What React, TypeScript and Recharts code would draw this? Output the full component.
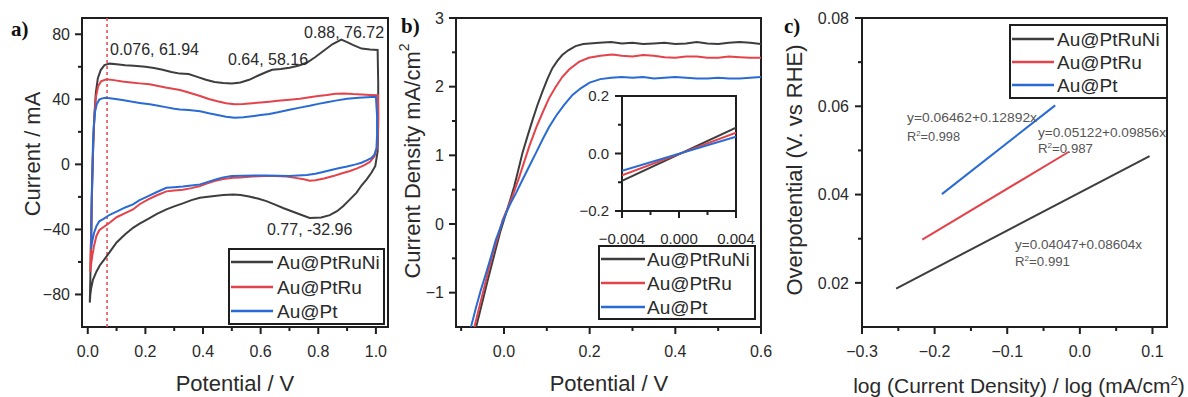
import React from 'react';
import { LineChart, Line, XAxis, YAxis, ReferenceLine, ReferenceArea } from 'recharts';

const W = 1188;
const H = 397;
const FONT = "'Liberation Sans', Arial, Helvetica, sans-serif";
const SERIF = "'Liberation Serif', 'Times New Roman', serif";
const INK = '#1e1e1e';
const TXT = '#2a2a2a';

const SERIES_NAMES = ['Au@PtRuNi', 'Au@PtRu', 'Au@Pt'];
const COLORS = ['#3d3d3d', '#e3434b', '#2a6ad3'];

// ---------- Panel a: cyclic voltammetry (potential V, current mA) ----------
const cvPtRuNi: [number, number][] = [
  [0.007, -85], [0.009, -70], [0.011, -50], [0.013, -30], [0.016, -8], [0.019, 12], [0.023, 30], [0.028, 44], [0.035, 53], [0.045, 58], [0.058, 61], [0.076, 61.94],
  [0.10, 61.6], [0.13, 61], [0.16, 60.6], [0.20, 60], [0.23, 59.2], [0.26, 58.2], [0.29, 56.8], [0.32, 55.8], [0.35, 55.5], [0.38, 53.8], [0.41, 52], [0.44, 50.6], [0.47, 50], [0.50, 49.8], [0.53, 50.4], [0.56, 52], [0.59, 54.5], [0.62, 56.8], [0.64, 58.16], [0.67, 58.6], [0.70, 59.4], [0.73, 60.6], [0.76, 62.5], [0.79, 66], [0.82, 70], [0.85, 74], [0.88, 76.72], [0.90, 75.2], [0.92, 73.5], [0.95, 71.2], [0.98, 70.6], [1.006, 70.4],
  [1.008, 50], [1.008, 25], [1.006, 8], [0.998, -1], [0.985, -5], [0.968, -9.2], [0.95, -13], [0.933, -17.4], [0.91, -21.5], [0.887, -25.6], [0.865, -28.8], [0.84, -31.2], [0.81, -32.6], [0.77, -32.96], [0.74, -31], [0.71, -29], [0.68, -27], [0.65, -24.8], [0.62, -22.6], [0.59, -21], [0.56, -19.8], [0.53, -18.8], [0.505, -18.5], [0.47, -18.8], [0.44, -19.4], [0.41, -20], [0.389, -20.5], [0.36, -22], [0.33, -24], [0.30, -25.8], [0.273, -27.7], [0.24, -30.5], [0.21, -33.5], [0.18, -36.5], [0.157, -39], [0.13, -43], [0.10, -48], [0.076, -54], [0.055, -59], [0.042, -62], [0.03, -66], [0.018, -71], [0.012, -76], [0.009, -80], [0.007, -85],
];
const cvPtRu: [number, number][] = [
  [0.009, -66], [0.010, -55], [0.012, -38], [0.014, -20], [0.017, 0], [0.020, 18], [0.024, 32], [0.029, 42], [0.036, 48], [0.046, 51], [0.065, 52.3],
  [0.09, 51.8], [0.12, 51], [0.15, 50.4], [0.18, 49.8], [0.215, 49.2], [0.24, 48.4], [0.27, 47.3], [0.30, 46.4], [0.32, 45.7], [0.35, 44.2], [0.39, 42], [0.42, 40.2], [0.45, 38.8], [0.48, 37.6], [0.51, 37], [0.54, 37.1], [0.57, 37.6], [0.60, 38], [0.63, 38.5], [0.66, 39.1], [0.70, 39.8], [0.736, 40.4], [0.77, 41.2], [0.80, 42], [0.83, 42.6], [0.86, 43.4], [0.89, 43.6], [0.92, 43.2], [0.95, 43], [0.98, 42.7], [1.007, 42.5],
  [1.008, 30], [1.007, 18], [1.004, 10], [0.995, 5], [0.979, 1.5], [0.96, -0.5], [0.935, -2.5], [0.91, -4.1], [0.88, -5.6], [0.852, -7.2], [0.82, -8.7], [0.79, -9.8], [0.77, -10], [0.75, -9.2], [0.72, -8.3], [0.69, -7.5], [0.65, -7.2], [0.62, -7.2], [0.59, -7.3], [0.56, -7.6], [0.53, -8], [0.505, -8.2], [0.47, -9], [0.44, -10.3], [0.41, -12], [0.39, -13.3], [0.36, -14.6], [0.33, -15.6], [0.30, -16], [0.273, -16.6], [0.24, -19], [0.21, -21.5], [0.18, -24.5], [0.157, -27.7], [0.13, -30], [0.10, -32.5], [0.076, -35.9], [0.055, -38.5], [0.04, -40.5], [0.03, -44], [0.022, -50], [0.016, -56], [0.012, -61], [0.009, -66],
];
const cvPt: [number, number][] = [
  [0.012, -52], [0.013, -35], [0.014, -18], [0.016, -2], [0.018, 12], [0.021, 24], [0.025, 32], [0.031, 37], [0.04, 39.8], [0.05, 40.6], [0.0625, 41],
  [0.09, 40.4], [0.12, 39.6], [0.15, 38.6], [0.18, 37.8], [0.215, 36.9], [0.24, 36.2], [0.27, 35.2], [0.30, 34.2], [0.32, 33.8], [0.35, 33.4], [0.39, 32.6], [0.42, 31.4], [0.45, 30.4], [0.48, 29.3], [0.51, 28.7], [0.54, 29], [0.57, 29.6], [0.60, 30.3], [0.63, 31], [0.66, 32], [0.70, 33.6], [0.736, 34.9], [0.77, 36], [0.80, 37.2], [0.83, 38.2], [0.86, 39.2], [0.90, 40.3], [0.94, 40.9], [0.97, 41.2], [1.0, 41.6],
  [1.004, 30], [1.004, 18], [1.002, 10], [0.995, 6], [0.985, 4], [0.968, 2.4], [0.95, 1], [0.93, 0], [0.9, -1.3], [0.87, -2.4], [0.852, -3.1], [0.82, -4.5], [0.79, -5.8], [0.76, -6.5], [0.73, -6.9], [0.70, -7.2], [0.66, -7], [0.62, -6.8], [0.58, -6.8], [0.54, -7], [0.50, -7.2], [0.47, -8], [0.45, -9], [0.42, -10.6], [0.39, -12.3], [0.36, -13], [0.33, -13.6], [0.30, -14], [0.273, -14.4], [0.24, -17], [0.21, -19.5], [0.18, -22], [0.157, -24.6], [0.13, -26.5], [0.10, -29], [0.076, -31], [0.055, -33.5], [0.04, -35], [0.03, -38], [0.022, -42], [0.017, -46], [0.014, -49], [0.012, -52],
];
const cvMarkerPotential = 0.067;
const cvAnnotations = ['0.076, 61.94', '0.64, 58.16', '0.88, 76.72', '0.77, -32.96'];

// ---------- Panel b: polarization (potential V, current density mA/cm2) ----------
const lsvPtRuNi: [number, number][] = [
  [-0.065, -1.5], [-0.057, -1.3], [-0.047, -1.05], [-0.038, -0.82], [-0.028, -0.58], [-0.019, -0.36], [-0.008, -0.1], [0.005, 0.16], [0.015, 0.36], [0.024, 0.55], [0.034, 0.8], [0.043, 1.03], [0.055, 1.28], [0.067, 1.52], [0.078, 1.73], [0.09, 1.93], [0.102, 2.12], [0.113, 2.27], [0.125, 2.38], [0.136, 2.46], [0.15, 2.53], [0.167, 2.59], [0.185, 2.62], [0.2, 2.63],
  [0.222, 2.64], [0.25, 2.65], [0.275, 2.63], [0.3, 2.64], [0.325, 2.62], [0.35, 2.63], [0.375, 2.64], [0.4, 2.62], [0.425, 2.63], [0.45, 2.65], [0.475, 2.63], [0.5, 2.62], [0.525, 2.64], [0.55, 2.65], [0.575, 2.64], [0.6, 2.62],
];
const lsvPtRu: [number, number][] = [
  [-0.069, -1.5], [-0.058, -1.22], [-0.046, -0.92], [-0.036, -0.67], [-0.026, -0.43], [-0.013, -0.16], [-0.003, 0.06], [0.012, 0.28], [0.024, 0.48], [0.036, 0.69], [0.048, 0.92], [0.059, 1.13], [0.075, 1.4], [0.09, 1.62], [0.105, 1.83], [0.121, 2.0], [0.136, 2.14], [0.152, 2.25], [0.175, 2.36], [0.198, 2.42],
  [0.225, 2.45], [0.253, 2.47], [0.275, 2.45], [0.3, 2.44], [0.325, 2.46], [0.35, 2.45], [0.375, 2.43], [0.4, 2.42], [0.425, 2.44], [0.45, 2.44], [0.475, 2.42], [0.5, 2.42], [0.525, 2.44], [0.55, 2.43], [0.575, 2.42], [0.6, 2.42],
];
const lsvPt: [number, number][] = [
  [-0.077, -1.5], [-0.065, -1.21], [-0.054, -0.96], [-0.042, -0.72], [-0.03, -0.47], [-0.019, -0.23], [-0.007, -0.03], [0.005, 0.16], [0.016, 0.31], [0.028, 0.45], [0.043, 0.64], [0.059, 0.84], [0.075, 1.04], [0.09, 1.23], [0.105, 1.41], [0.121, 1.57], [0.14, 1.73], [0.16, 1.88], [0.18, 1.98], [0.2, 2.06],
  [0.225, 2.11], [0.25, 2.13], [0.275, 2.14], [0.3, 2.13], [0.325, 2.14], [0.35, 2.12], [0.375, 2.13], [0.4, 2.14], [0.425, 2.13], [0.45, 2.12], [0.475, 2.12], [0.5, 2.13], [0.525, 2.12], [0.55, 2.12], [0.575, 2.13], [0.6, 2.14],
];

// inset: zoom near 0 V
const insetPtRuNi: [number, number][] = [[-0.004, -0.095], [0.004, 0.09]];
const insetPtRu: [number, number][] = [[-0.004, -0.076], [0.004, 0.072]];
const insetPt: [number, number][] = [[-0.004, -0.06], [0.004, 0.058]];

// ---------- Panel c: Tafel fits (log j, overpotential V) ----------
const tafelPtRuNi: [number, number][] = [[-0.253, 0.0187], [0.096, 0.0487]];
const tafelPtRu: [number, number][] = [[-0.217, 0.0298], [-0.015, 0.0497]];
const tafelPt: [number, number][] = [[-0.19, 0.0401], [-0.034, 0.0602]];
const tafelEquations = ['y=0.06462+0.12892x', 'y=0.05122+0.09856x', 'y=0.04047+0.08604x'];
const tafelR2 = ['=0.998', '=0.987', '=0.991'];

// ---------- tick definitions ----------
const aXMajor = [0, 0.2, 0.4, 0.6, 0.8, 1.0];
const aXMinor = [0.1, 0.3, 0.5, 0.7, 0.9];
const aYMajor = [-80, -40, 0, 40, 80];
const aYMinor = [-60, -20, 20, 60];
const bXMajor = [0, 0.2, 0.4, 0.6];
const bXMinor = [-0.1, 0.1, 0.3, 0.5];
const bYMajor = [-1, 0, 1, 2, 3];
const bYMinor = [-0.5, 0.5, 1.5, 2.5];
const cXMajor = [-0.3, -0.2, -0.1, 0, 0.1];
const cXMinor = [-0.25, -0.15, -0.05, 0.05];
const cYMajor = [0.02, 0.04, 0.06, 0.08];
const cYMinor = [0.03, 0.05, 0.07];
const iXMajor = [-0.004, 0, 0.004];
const iXMinor = [-0.002, 0.002];
const iYMajor = [-0.2, 0, 0.2];
const iYMinor = [-0.1, 0.1];

const toPts = (arr: [number, number][]) => arr.map(([x, y]) => ({ x, y }));

const fmt = (v: number, d: number) => {
  const s = Math.abs(v) < 1e-12 ? (0).toFixed(d) : v.toFixed(d);
  return s.replace('-', '\u2212');
};
const isIn = (arr: number[], v: number) => arr.some((m) => Math.abs(m - v) < 1e-9);

const makeXTick = (major: number[], digits: number, fs: number, labelDy: number) => (props: any) => {
  const { x, y, payload } = props;
  const v = payload.value;
  const maj = isIn(major, v);
  return (
    <g>
      <line x1={x} y1={y} x2={x} y2={y + (maj ? 7 : 4)} stroke={INK} strokeWidth={2} />
      {maj && (
        <text x={x} y={y + labelDy} textAnchor="middle" fontSize={fs} fill={TXT} fontFamily={FONT}>
          {fmt(v, digits)}
        </text>
      )}
    </g>
  );
};
const makeYTick = (major: number[], digits: number, fs: number, labelDx: number) => (props: any) => {
  const { x, y, payload } = props;
  const v = payload.value;
  const maj = isIn(major, v);
  return (
    <g>
      <line x1={x - (maj ? 7 : 4)} y1={y} x2={x} y2={y} stroke={INK} strokeWidth={2} />
      {maj && (
        <text x={x - labelDx} y={y + fs * 0.36} textAnchor="end" fontSize={fs} fill={TXT} fontFamily={FONT}>
          {fmt(v, digits)}
        </text>
      )}
    </g>
  );
};

type Box = { left: number; top: number; right: number; bottom: number };
type PanelProps = {
  box: Box;
  xDomain: [number, number];
  yDomain: [number, number];
  xMajor: number[];
  xMinor: number[];
  yMajor: number[];
  yMinor: number[];
  xDigits: number;
  yDigits: number;
  fs: number;
  xLabelDy: number;
  yLabelDx: number;
  series: [number, number][][];
  extra?: React.ReactNode;
};

// The axes get a 1px band (recharts skips axes of zero size); margins leave the plot area at `box`.
function Panel(p: PanelProps) {
  const xt = [...p.xMajor, ...p.xMinor].sort((a, b) => a - b);
  const yt = [...p.yMajor, ...p.yMinor].sort((a, b) => a - b);
  const margin = {
    top: p.box.top,
    left: p.box.left - 1,
    right: W - p.box.right,
    bottom: H - p.box.bottom - 1,
  };
  return (
    <div style={{ position: 'absolute', left: 0, top: 0 }}>
      <LineChart width={W} height={H} margin={margin}>
        <XAxis
          type="number"
          dataKey="x"
          domain={p.xDomain}
          allowDataOverflow
          ticks={xt}
          interval={0}
          height={1}
          tickSize={0}
          tickMargin={0}
          axisLine={false}
          tickLine={false}
          tick={makeXTick(p.xMajor, p.xDigits, p.fs, p.xLabelDy)}
        />
        <YAxis
          type="number"
          dataKey="y"
          domain={p.yDomain}
          allowDataOverflow
          ticks={yt}
          interval={0}
          width={1}
          tickSize={0}
          tickMargin={0}
          axisLine={false}
          tickLine={false}
          tick={makeYTick(p.yMajor, p.yDigits, p.fs, p.yLabelDx)}
        />
        <ReferenceArea
          x1={p.xDomain[0]}
          x2={p.xDomain[1]}
          y1={p.yDomain[0]}
          y2={p.yDomain[1]}
          fill="none"
          fillOpacity={0}
          stroke={INK}
          strokeWidth={2}
          ifOverflow="visible"
        />
        {p.extra}
        {p.series.map((s, i) => (
          <Line
            key={SERIES_NAMES[i]}
            name={SERIES_NAMES[i]}
            data={toPts(s)}
            dataKey="y"
            type="linear"
            stroke={COLORS[i]}
            strokeWidth={2}
            dot={false}
            activeDot={false}
            isAnimationActive={false}
          />
        ))}
      </LineChart>
    </div>
  );
}

function LegendBox({ x, y, w, h, rows, lx1, lx2, tx, fs }: any) {
  return (
    <g>
      <rect x={x} y={y} width={w} height={h} fill="none" stroke={INK} strokeWidth={2} />
      {SERIES_NAMES.map((n, i) => (
        <g key={n}>
          <line x1={lx1} x2={lx2} y1={rows[i]} y2={rows[i]} stroke={COLORS[i]} strokeWidth={2.5} />
          <text x={tx} y={rows[i] + fs * 0.36} fontSize={fs} fill={TXT} fontFamily={FONT}>
            {n}
          </text>
        </g>
      ))}
    </g>
  );
}

function Eq({ x, y, text, len }: { x: number; y: number; text: string; len: number }) {
  return (
    <text x={x} y={y} fontSize={13} fill="#555" fontFamily={FONT} textLength={len} lengthAdjust="spacingAndGlyphs">
      {text}
    </text>
  );
}

function R2({ x, y, val, len }: { x: number; y: number; val: string; len: number }) {
  return (
    <text x={x} y={y} fontSize={13} fill="#555" fontFamily={FONT} textLength={len} lengthAdjust="spacingAndGlyphs">
      R<tspan dy={-5} fontSize={8}>2</tspan>
      <tspan dy={5}>{val}</tspan>
    </text>
  );
}

export default function App() {
  return (
    <div style={{ position: 'absolute', left: 0, top: 0, width: W, height: H, background: '#fff', overflow: 'hidden' }}>
      <Panel
        box={{ left: 82, top: 18, right: 388, bottom: 327 }}
        xDomain={[-0.02, 1.042]}
        yDomain={[-100, 90]}
        xMajor={aXMajor}
        xMinor={aXMinor}
        yMajor={aYMajor}
        yMinor={aYMinor}
        xDigits={1}
        yDigits={0}
        fs={16}
        xLabelDy={29.5}
        yLabelDx={12}
        series={[cvPtRuNi, cvPtRu, cvPt]}
        extra={
          <ReferenceLine x={cvMarkerPotential} stroke="#e8505c" strokeWidth={1.6} strokeDasharray="3 3" />
        }
      />
      <Panel
        box={{ left: 456, top: 18, right: 761, bottom: 327 }}
        xDomain={[-0.112, 0.6]}
        yDomain={[-1.5, 3]}
        xMajor={bXMajor}
        xMinor={bXMinor}
        yMajor={bYMajor}
        yMinor={bYMinor}
        xDigits={1}
        yDigits={0}
        fs={16}
        xLabelDy={29.5}
        yLabelDx={12}
        series={[lsvPtRuNi, lsvPtRu, lsvPt]}
      />
      <Panel
        box={{ left: 622, top: 96, right: 736, bottom: 211 }}
        xDomain={[-0.004, 0.004]}
        yDomain={[-0.2, 0.2]}
        xMajor={iXMajor}
        xMinor={iXMinor}
        yMajor={iYMajor}
        yMinor={iYMinor}
        xDigits={3}
        yDigits={1}
        fs={15}
        xLabelDy={33}
        yLabelDx={13}
        series={[insetPtRuNi, insetPtRu, insetPt]}
      />
      <Panel
        box={{ left: 862, top: 18, right: 1167, bottom: 327 }}
        xDomain={[-0.3, 0.12]}
        yDomain={[0.01, 0.08]}
        xMajor={cXMajor}
        xMinor={cXMinor}
        yMajor={cYMajor}
        yMinor={cYMinor}
        xDigits={1}
        yDigits={2}
        fs={16}
        xLabelDy={29.5}
        yLabelDx={13}
        series={[tafelPtRuNi, tafelPtRu, tafelPt]}
      />
      <svg
        width={W}
        height={H}
        style={{ position: 'absolute', left: 0, top: 0, pointerEvents: 'none' }}
        fontFamily={FONT}
      >
        {/* panel letters */}
        <text x={11} y={36} fontFamily={SERIF} fontWeight="bold" fontSize={21} fill="#111">a)</text>
        <text x={401} y={33} fontFamily={SERIF} fontWeight="bold" fontSize={21} fill="#111">b)</text>
        <text x={784} y={33} fontFamily={SERIF} fontWeight="bold" fontSize={21} fill="#111">c)</text>

        {/* axis titles */}
        <text transform="translate(32,154) rotate(-90)" textAnchor="middle" dominantBaseline="central" fontSize={22} fill={TXT}>
          Current / mA
        </text>
        <text x={235} y={391} textAnchor="middle" fontSize={22} fill={TXT}>Potential / V</text>
        <text transform="translate(412,161) rotate(-90)" textAnchor="middle" dominantBaseline="central" fontSize={22} fill={TXT}>
          Current Density mA/cm<tspan dy={-8} fontSize={14}>2</tspan>
        </text>
        <text x={609} y={391} textAnchor="middle" fontSize={22} fill={TXT}>Potential / V</text>
        <text transform="translate(794,170) rotate(-90)" textAnchor="middle" dominantBaseline="central" fontSize={22} fill={TXT}>
          Overpotential (V. vs RHE)
        </text>
        <text x={1019} y={393} textAnchor="middle" fontSize={21} fill={TXT}>
          log (Current Density) / log (mA/cm<tspan dy={-8} fontSize={13}>2</tspan>
          <tspan dy={8}>)</tspan>
        </text>

        {/* panel a annotations */}
        <text x={110} y={55} fontSize={16} fill={TXT}>{cvAnnotations[0]}</text>
        <text x={228} y={65} fontSize={16} fill={TXT}>{cvAnnotations[1]}</text>
        <text x={304} y={38} fontSize={16} fill={TXT}>{cvAnnotations[2]}</text>
        <text x={267} y={235} fontSize={16} fill={TXT}>{cvAnnotations[3]}</text>

        {/* panel c fit annotations */}
        <Eq x={907} y={122} text={tafelEquations[0]} len={130} />
        <R2 x={907} y={141} val={tafelR2[0]} len={53} />
        <Eq x={1038} y={137} text={tafelEquations[1]} len={128} />
        <R2 x={1038} y={153} val={tafelR2[1]} len={55} />
        <Eq x={1015} y={249} text={tafelEquations[2]} len={127} />
        <R2 x={1015} y={266} val={tafelR2[2]} len={55} />

        {/* legends */}
        <LegendBox x={229} y={249} w={155} h={75} rows={[262, 287, 311]} lx1={231} lx2={273} tx={277} fs={19} />
        <LegendBox x={599} y={246} w={156} h={73} rows={[259, 283, 307]} lx1={601} lx2={645} tx={647} fs={19} />
        <LegendBox x={1010} y={25} w={157} h={73} rows={[39, 62, 85]} lx1={1012} lx2={1054} tx={1057} fs={19} />
      </svg>
    </div>
  );
}
